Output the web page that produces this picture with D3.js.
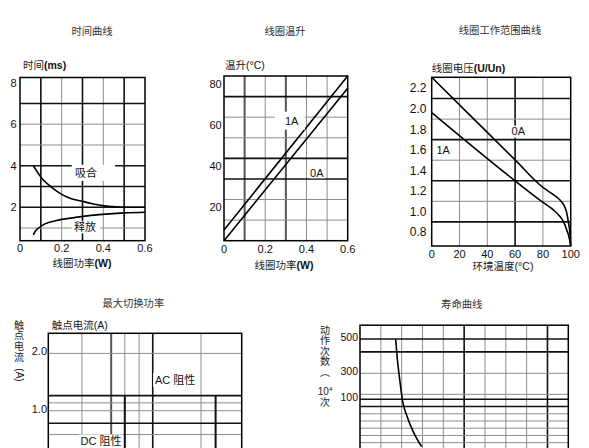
<!DOCTYPE html>
<html>
<head>
<meta charset="utf-8">
<title>继电器特性曲线</title>
<script src="https://cdn.jsdelivr.net/npm/d3@7"></script>
<style>
  body { margin: 0; background: #fff; }
  svg text { font-family: "Liberation Sans", Arial, "Noto Sans CJK SC", sans-serif; fill: #111; }
</style>
</head>
<body>
<script>
// ---------- data ----------

// 时间曲线
var timeXTicks = [0, 0.2, 0.4, 0.6];
var timeXGrid = [0.1, 0.2, 0.3, 0.4, 0.5];
var timeYTicks = [2, 4, 6, 8];
var timeYGrid = [1, 2, 3, 4, 5, 6, 7];
var pullIn = [[0.064, 4.0], [0.088, 3.63], [0.112, 3.31], [0.152, 2.96], [0.192, 2.67],
              [0.24, 2.43], [0.293, 2.30], [0.352, 2.16], [0.395, 2.08], [0.448, 2.03],
              [0.5, 2.0], [0.6, 2.0]];
var release = [[0.064, 0.67], [0.072, 0.83], [0.088, 0.99], [0.12, 1.2], [0.176, 1.36],
               [0.293, 1.55], [0.395, 1.66], [0.5, 1.73], [0.6, 1.76]];

// 线圈温升
var riseXTicks = [0, 0.2, 0.4, 0.6];
var riseXGrid = [0.1, 0.2, 0.3, 0.4, 0.5];
var riseYTicks = [20, 40, 60, 80];
var riseYGrid = [10, 20, 30, 40, 50, 60, 70];
var rise0A = [[0, 0], [0.6, 74]];
var rise1A = [[0, 5.2], [0.6, 80]];

// 线圈工作范围曲线
var rangeXTicks = [0, 20, 40, 60, 80, 100];
var rangeXGrid = [20, 40, 60, 80];
var rangeYTicks = [0.8, 1.0, 1.2, 1.4, 1.6, 1.8, 2.0, 2.2];
var rangeYGrid = [0.9, 1.1, 1.3, 1.5, 1.7, 1.9, 2.1];
var range0A = [[0, 2.307], [60, 1.503], [80, 1.235], [87.5, 1.165], [92.3, 1.112],
               [95.2, 1.06], [97.1, 0.99], [98.3, 0.9], [99.5, 0.78], [100, 0.667]];
var range1A = [[0, 1.963], [60, 1.299], [80, 1.09], [87.5, 1.017], [92.3, 0.952],
               [94.7, 0.904], [97.1, 0.823], [98.8, 0.751], [100, 0.667]];

// 最大切换功率
var switchYTicks = [1.0, 2.0];
var switchYGrid = [0.75, 0.86, 1.0, 1.1, 1.2, 2.0];
var switchXGrid = [21, 40, 54, 74, 100, 290];
var switchXGridDC = [54, 400];   // lines that start at 1.2 A and run down

// 寿命曲线
var lifeYTicks = [100, 300, 500];
var lifeYGrid = [40, 50, 60, 70, 80, 90, 100, 138, 300, 425, 500];
var lifeXGrid = [1, 2, 3, 4, 5, 6, 7, 8, 9];
var life = [[1.71, 500], [1.79, 386], [1.92, 235], [2.05, 96.7], [2.24, 78],
            [2.56, 55], [2.96, 34.5]];

// ---------- styles ----------
var thin = {c: "#8e8e8e", w: 1};
var blk = {c: "#111", w: 1.6};
var dark = {c: "#555", w: 2};
function pick(boldList, boldStyle, darkList) {
  return function(d) {
    if (boldList.indexOf(d) >= 0) return boldStyle;
    if (darkList && darkList.indexOf(d) >= 0) return dark;
    return thin;
  };
}

var W = 589, H = 448;
var svg = d3.select("body").append("svg").attr("width", W).attr("height", H);
svg.append("rect").attr("width", W).attr("height", H).attr("fill", "#fff");

// vertical + horizontal gridlines and a frame
function panel(x, y, xGrid, yGrid, xStyle, yStyle) {
  var g = svg.append("g");
  var xr = x.range(), yr = d3.extent(y.range());
  g.selectAll(null).data(xGrid).enter().append("line")
    .attr("x1", function(d) { return x(d); }).attr("x2", function(d) { return x(d); })
    .attr("y1", yr[0]).attr("y2", yr[1])
    .attr("stroke", function(d) { return xStyle(d).c; })
    .attr("stroke-width", function(d) { return xStyle(d).w; });
  g.selectAll(null).data(yGrid).enter().append("line")
    .attr("x1", xr[0]).attr("x2", xr[1])
    .attr("y1", function(d) { return y(d); }).attr("y2", function(d) { return y(d); })
    .attr("stroke", function(d) { return yStyle(d).c; })
    .attr("stroke-width", function(d) { return yStyle(d).w; });
  g.append("rect")
    .attr("x", xr[0]).attr("y", yr[0])
    .attr("width", xr[1] - xr[0]).attr("height", yr[1] - yr[0])
    .attr("fill", "none").attr("stroke", "#000").attr("stroke-width", 1.5);
  return g;
}

function yLabels(g, y, ticks, xPos, fmt, size, shift) {
  g.selectAll(null).data(ticks).enter().append("text")
    .attr("x", xPos).attr("y", function(d) { return y(d) + (shift || 0); })
    .attr("dy", "0.35em").attr("text-anchor", "end")
    .attr("font-size", size + "px")
    .text(fmt);
}

function xLabels(g, x, ticks, yPos, fmt, size) {
  g.selectAll(null).data(ticks).enter().append("text")
    .attr("x", function(d) { return x(d); }).attr("y", yPos)
    .attr("text-anchor", "middle").attr("font-size", size + "px")
    .text(fmt);
}

// CJK part normal, bracketed unit optionally bold
function axisTitle(s, xPos, yPos, anchor, boldUnit) {
  var i = s.indexOf("(");
  var t = svg.append("text").attr("x", xPos).attr("y", yPos).attr("dy", "0.35em")
    .attr("text-anchor", anchor).attr("font-size", "10.5px");
  t.append("tspan").attr("fill", "#222").text(s.slice(0, i));
  t.append("tspan").attr("font-weight", boldUnit ? "bold" : "normal").text(s.slice(i));
}

function title(s, xPos, yPos) {
  svg.append("text").attr("x", xPos).attr("y", yPos).attr("dy", "0.35em")
    .attr("text-anchor", "middle").attr("font-size", "10.3px")
    .style("fill", "#333").text(s);
}

// text with a white patch behind it
function tag(g, s, cx, cy, left, right, h, size) {
  if (h > 0) {
    g.append("rect").attr("x", cx - left).attr("y", cy - h / 2)
      .attr("width", left + right).attr("height", h).attr("fill", "#fff");
  }
  g.append("text").attr("x", cx).attr("y", cy).attr("dy", "0.35em")
    .attr("text-anchor", "middle").attr("font-size", (size || 11) + "px").text(s);
}

function curve(g, data, x, y) {
  var line = d3.line()
    .x(function(d) { return x(d[0]); })
    .y(function(d) { return y(d[1]); })
    .curve(d3.curveMonotoneX);
  g.append("path").datum(data).attr("d", line)
    .attr("fill", "none").attr("stroke", "#000").attr("stroke-width", 1.6);
}

function verticalText(chars, xPos, yStart, step) {
  svg.selectAll(null).data(chars).enter().append("text")
    .attr("x", xPos).attr("y", function(d, i) { return yStart + i * step; })
    .attr("dy", "0.35em").attr("text-anchor", "middle")
    .attr("font-size", "10px").style("fill", "#222")
    .text(function(d) { return d; });
}

var f1 = d3.format(".1f");
function plain(d) { return d === 0 ? "0" : String(d); }

// ---------- 时间曲线 ----------
var x1 = d3.scaleLinear().domain([0, 0.6]).range([20, 145]);
var y1 = d3.scaleLinear().domain([0.39, 8.25]).range([240.7, 77.5]);
var g1 = panel(x1, y1, timeXGrid, timeYGrid,
  pick([0.1, 0.3, 0.5], blk), pick([2, 3, 4, 7], blk));
curve(g1, pullIn, x1, y1);
curve(g1, release, x1, y1);
tag(g1, "吸合", x1(0.317), y1(3.66), 14.3, 29, 16);
tag(g1, "释放", x1(0.312), y1(1.03), 13.3, 15, 12);
yLabels(g1, y1, timeYTicks, 16.5, plain, 11);
xLabels(g1, x1, timeXTicks, 252, plain, 11);
title("时间曲线", 92, 31);
axisTitle("时间(ms)", 23, 65, "start", true);
axisTitle("线圈功率(W)", 82, 263, "middle", true);

// ---------- 线圈温升 ----------
var x2 = d3.scaleLinear().domain([0, 0.6]).range([224, 347.7]);
var y2 = d3.scaleLinear().domain([0, 80]).range([240.7, 76]);
var g2 = panel(x2, y2, riseXGrid, riseYGrid,
  pick([], blk, [0.1, 0.3]), pick([30, 40, 70], blk));
curve(g2, rise0A, x2, y2);
curve(g2, rise1A, x2, y2);
tag(g2, "1A", x2(0.328), y2(58.3), 16.7, 13.3, 18);
tag(g2, "0A", x2(0.45), y2(33), 8, 8, 11);
yLabels(g2, y2, riseYTicks, 221.7, plain, 11, 8);
xLabels(g2, x2, riseXTicks, 253, plain, 11);
title("线圈温升", 285, 31.7);
axisTitle("温升(°C)", 225, 65.7, "start", false);
axisTitle("线圈功率(W)", 284, 265, "middle", true);

// ---------- 线圈工作范围曲线 ----------
var x3 = d3.scaleLinear().domain([0, 100]).range([431.7, 570.7]);
var y3 = d3.scaleLinear().domain([0.665, 2.307]).range([246, 77.3]);
var g3 = panel(x3, y3, rangeXGrid, rangeYGrid,
  pick([60], blk), pick([0.9, 1.3, 1.7, 2.1], blk));
curve(g3, range0A, x3, y3);
curve(g3, range1A, x3, y3);
tag(g3, "0A", x3(62.3), y3(1.778), 8, 8, 12);
tag(g3, "1A", x3(8.3), y3(1.60), 0, 0, 0);
yLabels(g3, y3, rangeYTicks, 426.5, f1, 12);
xLabels(g3, x3, rangeXTicks, 258, plain, 11);
title("线圈工作范围曲线", 500, 30);
axisTitle("线圈电压(U/Un)", 431.7, 68.3, "start", true);
axisTitle("环境温度(°C)", 503, 266.7, "middle", false);

// ---------- 最大切换功率 ----------
var x4 = d3.scaleLog().domain([10, 711]).range([48.3, 241.7]);
var y4 = d3.scaleLog().domain([0.6, 2.55]).range([453, 333.3]);
var g4 = panel(x4, y4, switchXGrid, switchYGrid,
  pick([100], blk, [40]), pick([1.2, 0.86], blk));
g4.selectAll(null).data(switchXGridDC).enter().append("line")
  .attr("x1", function(d) { return x4(d); }).attr("x2", function(d) { return x4(d); })
  .attr("y1", y4(1.2)).attr("y2", y4(0.6))
  .attr("stroke", blk.c).attr("stroke-width", 2);
tag(g4, "AC 阻性", x4(164), y4(1.45), 22, 24, 14);
tag(g4, "DC 阻性", x4(32), y4(0.69), 22, 22, 14);
yLabels(g4, y4, switchYTicks, 47, f1, 11, -2);
title("最大切换功率", 133.3, 303.3);
axisTitle("触点电流(A)", 51.7, 325, "start", false);
verticalText(["触", "点", "电", "流"], 19, 325, 10.8);
svg.append("text").attr("transform", "translate(19,375) rotate(90)")
  .attr("dy", "0.35em").attr("text-anchor", "middle")
  .attr("font-size", "10px").style("fill", "#222").text("(A)");

// ---------- 寿命曲线 ----------
var x5 = d3.scaleLinear().domain([0, 10]).range([360, 568.3]);
var y5 = d3.scaleLinear().domain([30, 100, 300, 500, 582])
  .range([449.9, 399.3, 373.3, 339, 325.2]);
var g5 = panel(x5, y5, lifeXGrid, lifeYGrid,
  pick([5, 9], blk), pick([90, 100, 425, 500], blk));
curve(g5, life, x5, y5);
yLabels(g5, y5, lifeYTicks, 358, plain, 10.5, -2);
title("寿命曲线", 461.7, 304);
verticalText(["动", "作", "次", "数", "︵"], 325, 330, 10.5);
var t5 = svg.append("text").attr("x", 325).attr("y", 391).attr("dy", "0.35em")
  .attr("text-anchor", "middle").attr("font-size", "10px").style("fill", "#222");
t5.append("tspan").text("10");
t5.append("tspan").attr("font-size", "6px").attr("dy", "-4").text("4");
verticalText(["次"], 325, 402.3, 10);
</script>
</body>
</html>
